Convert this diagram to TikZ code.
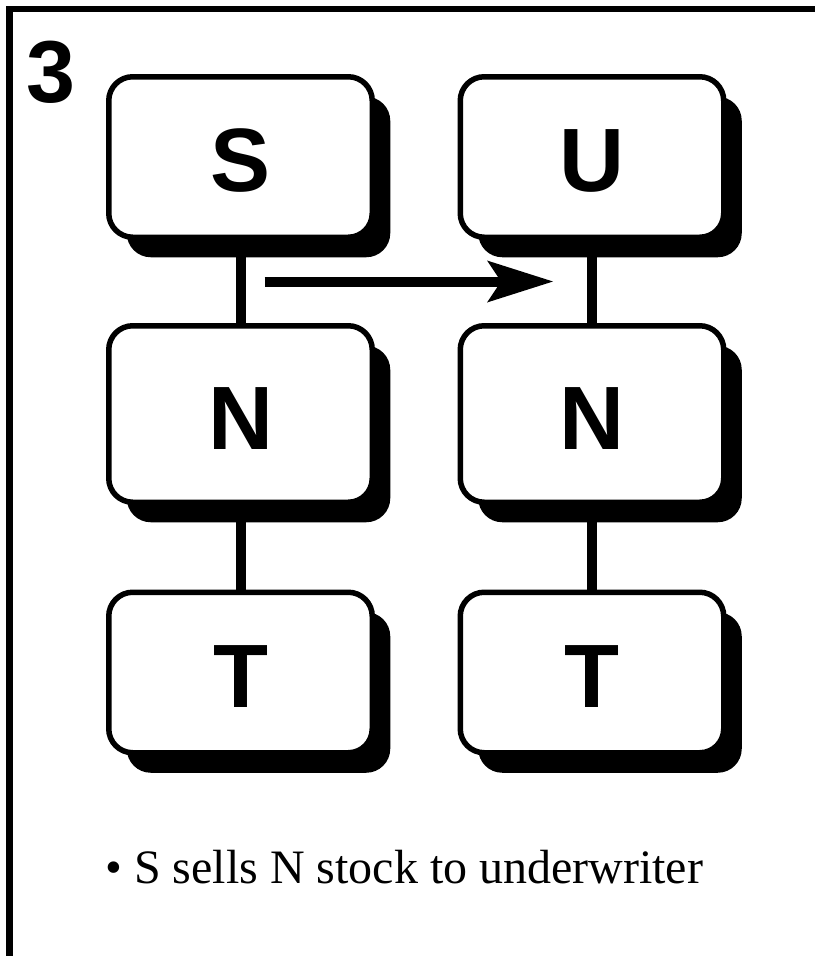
\documentclass[tikz,border=0pt]{standalone}
\usepackage{fontspec}
\setmainfont{Liberation Serif}
\newfontfamily\boxfont{Liberation Sans}
\usetikzlibrary{shadows,arrows.meta,calc}

\tikzset{
  box/.style={draw,line width=5.5pt,rounded corners=24pt,fill=white,
    minimum width=263.5pt,minimum height=160.5pt,text height=70pt,
    font=\boxfont\bfseries\fontsize{90}{90}\selectfont,
    drop shadow={shadow xshift=18pt,shadow yshift=-20pt,fill=black,opacity=1}},
  tall/.style={minimum height=176.5pt},
  link/.style={line width=10pt},
}

\begin{document}
\begin{tikzpicture}[x=1pt,y=1pt]
    \useasboundingbox (0,0) rectangle (815,-956);
    % frame, open to the right and below
    \draw[line width=6.5pt] (9.5,-956) -- (9.5,-9) -- (815,-9);
    \node[font=\boxfont\bfseries\fontsize{88}{88}\selectfont] (num) at (51,-72) {3};

    \node[box] (s1) at (240.5,-157) {S};
    \node[box,tall] (n1) [below of=s1,node distance=257pt] {N};
    \node[box] (t1) [below of=n1,node distance=258.5pt] {T};

    \node[box] (u2) [right of=s1,node distance=351.5pt] {U};
    \node[box,tall] (n2) [below of=u2,node distance=257pt] {N};
    \node[box] (t2) [below of=n2,node distance=258.5pt] {T};

    \draw[link] (s1) -- (n1);
    \draw[link] (n1) -- (t1);
    \draw[link] (u2) -- (n2);
    \draw[link] (n2) -- (t2);

    \coordinate (mid1) at ($(s1.south)!.5!(n1.north)$);
    \coordinate (mid2) at ($(u2.south)!.5!(n2.north)$);
    \draw[link,-{Stealth[length=66pt,width=42pt,inset=14pt,line width=0pt]}]
        ([xshift=24pt]mid1) -- ([xshift=-39pt]mid2);

    \node[anchor=base west,inner sep=0pt,font=\fontsize{48}{48}\selectfont]
        (note) at (105,-883) {\textbullet{} S sells N stock to underwriter};
\end{tikzpicture}
\end{document}
